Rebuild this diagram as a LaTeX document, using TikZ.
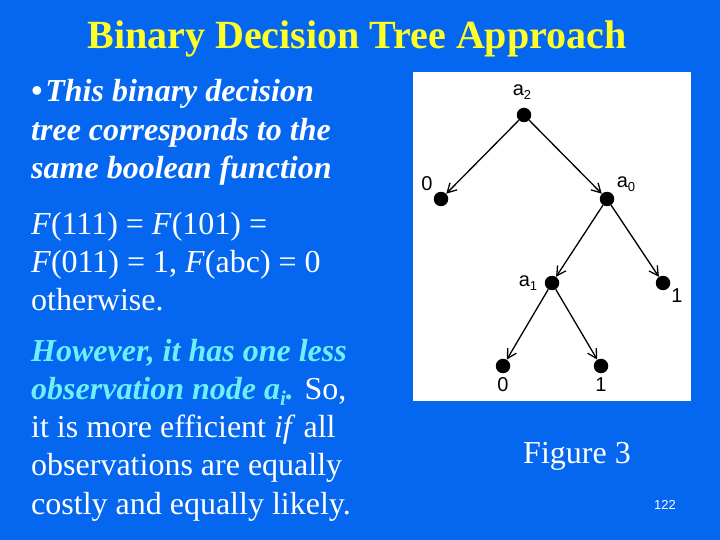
\documentclass[tikz,border=0pt]{standalone}
\usepackage{fontspec}
\setmainfont{Liberation Serif}
\newfontfamily\arialf{Liberation Sans}
\usetikzlibrary{arrows.meta}
\definecolor{slidebg}{RGB}{5,102,240}
\definecolor{titley}{RGB}{255,255,40}
\definecolor{cyanish}{RGB}{110,240,250}
\newcommand{\lowsub}[2]{\raisebox{-#1}{\fontsize{13}{13}\selectfont #2}}
\tikzset{
  para/.style={anchor=base west,inner sep=0pt,align=flush left,text=white,font=\fontsize{32}{38.3}\selectfont},
  dot/.style={circle,fill=black,inner sep=0pt,minimum size=14.5pt},
  edge/.style={draw=black,line width=1.3pt,-{Straight Barb[length=9pt,width=10pt,line width=1.3pt]}},
  lab/.style={inner sep=0pt,text=black,font=\arialf\fontsize{20}{20}\selectfont},
}
\begin{document}
\begin{tikzpicture}[x=1pt,y=-1pt]
\useasboundingbox (0,0) rectangle (720,540);
\fill[slidebg] (0,0) rectangle (720,540);
\node[anchor=base,inner sep=0pt,text=titley,font=\bfseries\fontsize{40}{44}\selectfont] (title) at (357,49) {Binary Decision Tree Approach};
\node[para,text width=370pt] (p1) at (31,102) {\bfseries\itshape \textbullet\hspace{3pt}This binary decision\\tree corresponds to the\\same boolean function};
\node[para,text width=370pt] (p2) at (31,234) {\textit{F}(111) = \textit{F}(101) =\\\textit{F}(011) = 1, \textit{F}(abc) = 0\\otherwise.};
\node[para,text width=370pt] (p3) at (31,361) {\color{cyanish}\bfseries\itshape However, it has one less\\observation node a\raisebox{-6pt}{\fontsize{21}{21}\selectfont i}. \color{white}\normalfont So,\\it is more efficient \textit{if} all\\observations are equally\\costly and equally likely.};
\fill[white] (413,72) rectangle (691,401);
\node[dot] (a2) at (524,115) {};
\node[dot] (z1) at (441,199) {};
\node[dot] (a0) at (607,199) {};
\node[dot] (a1) at (552,283) {};
\node[dot] (o1) at (663,283) {};
\node[dot] (z2) at (503,366) {};
\node[dot] (o2) at (601,366) {};
\draw[edge] (a2) -- (z1);
\draw[edge] (a2) -- (a0);
\draw[edge] (a0) -- (a1);
\draw[edge] (a0) -- (o1);
\draw[edge] (a1) -- (z2);
\draw[edge] (a1) -- (o2);
\node[lab] (la2) at (522,92) {a\lowsub{4pt}{2}};
\node[lab] (lz1) at (427,184) {0};
\node[lab] (la0) at (626,184) {a\lowsub{4pt}{0}};
\node[lab] (la1) at (528,283) {a\lowsub{4pt}{1}};
\node[lab] (lo1) at (677,296) {1};
\node[lab] (lz2) at (503,385) {0};
\node[lab] (lo2) at (601,385) {1};
\node[anchor=base,inner sep=0pt,text=white,font=\fontsize{32}{38}\selectfont] (fig) at (577,463) {Figure 3};
\node[anchor=base,inner sep=0pt,text=white,font=\arialf\fontsize{13}{15}\selectfont] (num) at (665,509) {122};
\end{tikzpicture}
\end{document}
